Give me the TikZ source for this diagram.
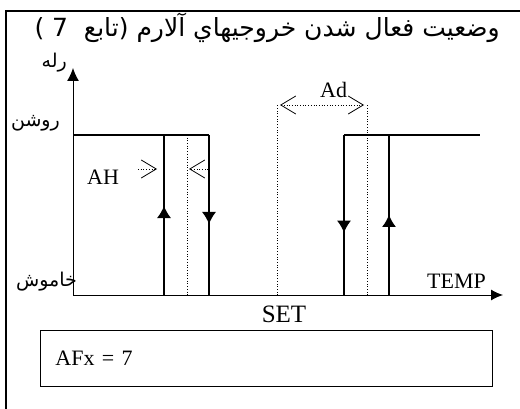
\documentclass[tikz,border=0pt]{standalone}
\usepackage{fontspec}
\setmainfont{Liberation Serif}
\newfontfamily\persianfont[Script=Arabic]{DejaVu Sans}
\newfontfamily\bracketfont{DejaVu Sans}
\TeXXeTstate=1
\usetikzlibrary{arrows.meta,decorations.markings}
\tikzset{
  frame/.style={line width=1.4pt},
  axis/.style={line width=1pt,-{Latex[length=13pt,width=12pt]}},
  relay/.style={line width=1.1pt},
  guide/.style={dotted,line width=0.7pt},
  gap/.style={dotted,line width=0.7pt,-{Straight Barb[length=15pt,width=18pt,line width=0.8pt]}},
  midarrow/.style={postaction={decorate},decoration={markings,mark=at position #1 with {\arrow{Latex[length=12pt,width=14pt]}}}},
  lbl/.style={font=\fontsize{22}{24}\selectfont,inner sep=0pt},
  fa/.style={font=\persianfont\fontsize{19}{22}\selectfont,inner sep=0pt},
}
\begin{document}
\begin{tikzpicture}[x=1pt,y=-1pt]
                          \useasboundingbox (0,0) rectangle (520,409);
                          \draw[frame] (6,409) -- (6,11) -- (520,11);
                          \coordinate (O) at (73,295); \coordinate (ytop) at (73,68); \coordinate (xend) at (503,295);
                          \draw[axis] (O) -- (ytop);
                          \draw[axis,-{Latex[length=12pt,width=11pt]}] (O) -- (xend);
                          % left hysteresis
                          \coordinate (on0) at (73,135); \coordinate (on1) at (209,135); \coordinate (off1) at (209,295);
                          \coordinate (up1b) at (164,295); \coordinate (up1t) at (164,135);
                          \draw[relay] (on0) -- (up1t);
                          \draw[relay,midarrow=0.556] (up1b) -- (up1t);
                          \draw[relay,midarrow=0.556] (on1) -- (off1);
                          \draw[relay] (up1t) -- (on1);
                          \coordinate (ahb) at (187,135); \coordinate (ahe) at (187,295);
                          \draw[guide] (ahb) -- (ahe);
                          \coordinate (ah1s) at (138,169); \coordinate (ah1e) at (157,169);
                          \coordinate (ah2s) at (208,169); \coordinate (ah2e) at (189,169);
                          \draw[gap] (ah1s) -- (ah1e);
                          \draw[gap] (ah2s) -- (ah2e);
                          % right hysteresis
                          \coordinate (dn2t) at (344,135); \coordinate (dn2b) at (344,295);
                          \coordinate (up2b) at (389,295); \coordinate (up2t) at (389,135); \coordinate (on2) at (480,135);
                          \draw[relay] (dn2t) -- (on2);
                          \draw[relay,midarrow=0.61] (dn2t) -- (dn2b);
                          \draw[relay,midarrow=0.5] (up2b) -- (up2t);
                          \coordinate (setb) at (277,295); \coordinate (sett) at (277,105);
                          \coordinate (adb) at (367,295); \coordinate (adt) at (367,105);
                          \draw[guide] (setb) -- (sett);
                          \draw[guide] (adb) -- (adt);
                          \coordinate (ad1) at (280,105); \coordinate (ad2) at (364,105);
                          \draw[gap,{Straight Barb[length=15pt,width=18pt,line width=0.8pt]}-{Straight Barb[length=15pt,width=18pt,line width=0.8pt]}] (ad1) -- (ad2);
                          % labels
                          \node[fa,font=\persianfont\fontsize{25}{28}\selectfont,anchor=base east] (title) at (500,37) {{\bracketfont( 7\ \ }\beginR تابع\endR{\bracketfont)} \beginR وضعيت فعال شدن خروجيهاي آلارم\endR};
                          \node[fa,anchor=base east] (rele) at (67,68) {\beginR رله\endR};
                          \node[fa,anchor=base east] (rowshan) at (60,127) {\beginR روشن\endR};
                          \node[fa,anchor=base east] (khamush) at (77,287) {\beginR خاموش\endR};
                          \node[lbl,anchor=base west] (ah) at (87,185) {AH};
                          \node[lbl,anchor=base west] (ad) at (320,98) {Ad};
                          \node[lbl,anchor=base west] (temp) at (427,288) {TEMP};
                          \node[lbl,font=\fontsize{25}{27}\selectfont,anchor=base] (set) at (284,322) {SET};
                          \node[draw,line width=0.8pt,anchor=north west,minimum height=56pt,text width=422pt,inner xsep=15pt,inner ysep=0pt,align=left,font=\fontsize{22}{24}\selectfont] (afx) at (40,330) {AFx = 7};
                      \end{tikzpicture}
\end{document}
